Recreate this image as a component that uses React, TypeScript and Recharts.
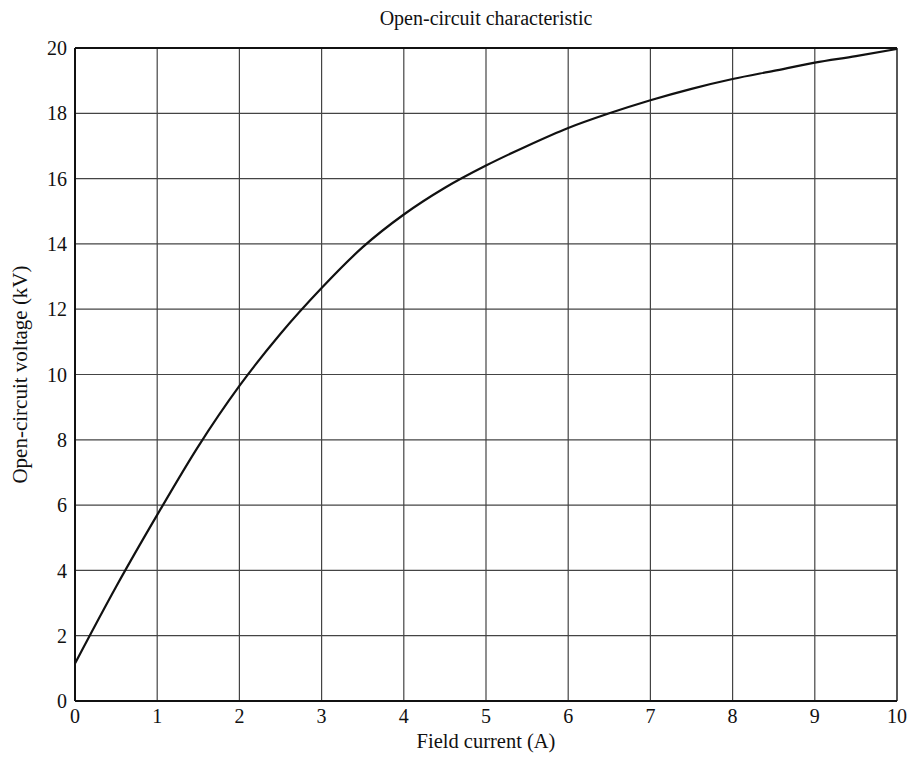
import { LineChart, Line, XAxis, YAxis, CartesianGrid, ReferenceLine } from 'recharts';

// Field current (A) sampled off the curve
const fieldCurrent = [0, 0.5, 1, 1.5, 2, 2.5, 3, 3.5, 4, 4.5, 5, 5.5, 6, 6.5, 7, 7.5, 8, 8.5, 9, 9.5, 10];
// Open-circuit voltage (kV) read at each field current
const voltage = [1.15, 3.5, 5.7, 7.8, 9.65, 11.25, 12.65, 13.9, 14.9, 15.72, 16.4, 17.0, 17.55, 18.0, 18.4, 18.75, 19.05, 19.3, 19.55, 19.75, 19.97];

const xTicks = [0, 1, 2, 3, 4, 5, 6, 7, 8, 9, 10];
const yTicks = [0, 2, 4, 6, 8, 10, 12, 14, 16, 18, 20];

const data = fieldCurrent.map((x, i) => ({ x, v: voltage[i] }));

const font = '"Liberation Serif", "Times New Roman", serif';
const tickStyle = { fill: '#111', fontSize: 20, fontFamily: font };

export default function App() {
  return (
    <div style={{ position: 'absolute', left: 0, top: 0, width: 909, height: 757, background: '#fff' }}>
      <div
        style={{
          position: 'absolute',
          top: 7,
          left: 75,
          width: 822,
          textAlign: 'center',
          fontFamily: font,
          fontSize: 20,
          color: '#111',
        }}
      >
        Open-circuit characteristic
      </div>
      <LineChart width={909} height={757} data={data} margin={{ top: 48, right: 12, bottom: 0, left: 0 }}>
        <CartesianGrid stroke="#444" strokeWidth={1.2} />
        <XAxis
          dataKey="x"
          type="number"
          domain={[0, 10]}
          ticks={xTicks}
          tickLine={false}
          axisLine={{ stroke: '#111', strokeWidth: 2 }}
          tick={tickStyle}
          height={56}
          label={{ value: 'Field current (A)', position: 'insideBottom', offset: 9, style: { ...tickStyle, fontSize: 20.5 } }}
        />
        <YAxis
          type="number"
          domain={[0, 20]}
          ticks={yTicks}
          tickLine={false}
          axisLine={{ stroke: '#111', strokeWidth: 2 }}
          tick={tickStyle}
          width={75}
          label={{ value: 'Open-circuit voltage (kV)', angle: -90, position: 'insideLeft', offset: 20, style: { ...tickStyle, fontSize: 21, textAnchor: 'middle' } }}
        />
        <ReferenceLine y={20} stroke="#111" strokeWidth={2} />
        <ReferenceLine x={10} stroke="#444" strokeWidth={1.5} />
        <Line type="monotone" dataKey="v" stroke="#111" strokeWidth={2.2} dot={false} isAnimationActive={false} />
      </LineChart>
    </div>
  );
}
